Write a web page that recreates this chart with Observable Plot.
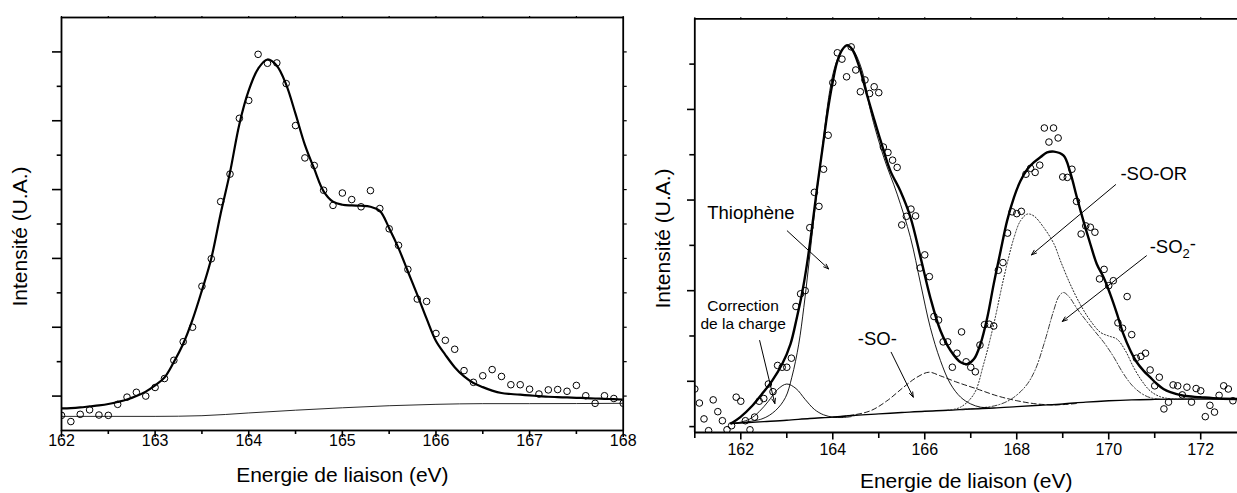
<!DOCTYPE html>
<html><head><meta charset="utf-8">
<script src="https://cdn.jsdelivr.net/npm/d3@7"></script>
<script src="https://cdn.jsdelivr.net/npm/@observablehq/plot@0.6"></script>
<style>
html,body{margin:0;padding:0;background:#fff;overflow:hidden}
#wrap{position:relative;width:1237px;height:493px;overflow:hidden;background:#fff}
#left,#right{position:absolute;top:0}
#left{left:0}
#right{left:640px}
</style></head>
<body><div id="wrap"><div id="left"></div><div id="right"></div></div>
<script>
// ---------- Left panel data ----------
const leftE = [162.0,162.1,162.2,162.3,162.4,162.5,162.6,162.7,162.8,162.9,
  163.0,163.1,163.2,163.3,163.4,163.5,163.6,163.7,163.8,163.9,
  164.0,164.1,164.2,164.3,164.4,164.5,164.6,164.7,164.8,164.9,
  165.0,165.1,165.2,165.3,165.4,165.5,165.6,165.7,165.8,165.9,
  166.0,166.1,166.2,166.3,166.4,166.5,166.6,166.7,166.8,166.9,
  167.0,167.1,167.2,167.3,167.4,167.5,167.6,167.7,167.8,167.9,168.0];
const leftCounts = [0.44,0.26,0.47,0.60,0.45,0.44,0.76,0.97,1.11,1.00,
  1.25,1.51,2.04,2.58,3.00,4.19,4.99,6.65,7.45,9.07,
  9.59,10.93,10.67,10.68,10.08,8.86,7.92,7.70,6.98,6.54,
  6.90,6.71,6.50,6.97,6.45,5.86,5.38,4.68,3.82,3.75,
  2.82,2.62,2.36,1.74,1.40,1.59,1.77,1.57,1.33,1.33,
  1.20,1.06,1.18,1.19,1.14,1.31,1.01,0.79,1.01,0.93,0.79];
const leftFit = [0.64,0.65,0.67,0.70,0.73,0.77,0.83,0.90,1.00,1.13,
  1.31,1.54,1.99,2.52,3.22,4.07,5.00,6.30,7.50,8.90,
  9.88,10.51,10.78,10.60,10.05,9.20,8.30,7.60,6.95,6.65,
  6.56,6.54,6.53,6.50,6.38,5.88,5.30,4.62,3.95,3.25,
  2.60,2.20,1.84,1.57,1.38,1.26,1.16,1.09,1.06,1.04,
  1.02,1.00,0.98,0.97,0.96,0.95,0.94,0.93,0.92,0.91,0.90];
const leftBgE = [162,163,163.5,164,164.5,165,165.5,166,166.5,167,168];
const leftBgI = [0.41,0.41,0.43,0.51,0.59,0.66,0.72,0.76,0.78,0.78,0.79];
const leftTickLabels = [162,163,164,165,166,167,168];
const leftMinorX = [162.5,163.5,164.5,165.5,166.5,167.5];
const leftMajorY = [1,3,5,7,9,11];
const leftMinorY = [2,4,6,8,10];

// ---------- Right panel data ----------
const rightE = [161.0,161.1,161.2,161.3,161.4,161.5,161.6,161.7,161.8,161.9,
  162.0,162.1,162.2,162.3,162.4,162.5,162.6,162.7,162.8,162.9,
  163.0,163.1,163.2,163.3,163.4,163.5,163.6,163.7,163.8,163.9,
  164.0,164.1,164.2,164.3,164.4,164.5,164.6,164.7,164.8,164.9,
  165.0,165.1,165.2,165.3,165.4,165.5,165.6,165.7,165.8,165.9,
  166.0,166.1,166.2,166.3,166.4,166.5,166.6,166.7,166.8,166.9,
  167.0,167.1,167.2,167.3,167.4,167.5,167.6,167.7,167.8,167.9,
  168.0,168.1,168.2,168.3,168.4,168.5,168.6,168.7,168.8,168.9,
  169.0,169.1,169.2,169.3,169.4,169.5,169.6,169.7,169.8,169.9,
  170.0,170.1,170.2,170.3,170.4,170.5,170.6,170.7,170.8,170.9,
  171.0,171.1,171.2,171.3,171.4,171.5,171.6,171.7,171.8,171.9,
  172.0,172.1,172.2,172.3,172.4,172.5,172.6,172.7];
const rightCounts = [0.83,0.52,0.17,-0.09,0.59,0.33,0.13,-0.07,0.02,0.65,
  0.56,0.13,-0.07,0.21,0.56,0.62,0.94,0.77,1.35,1.31,
  1.31,1.51,2.65,2.93,3.00,4.39,5.17,4.86,5.68,6.43,
  7.59,8.25,8.11,7.72,8.38,7.87,7.39,7.65,7.35,7.50,
  7.37,6.17,6.05,5.88,5.72,4.45,4.64,4.80,4.65,3.50,
  3.79,3.31,2.43,2.35,1.87,1.87,1.31,1.62,2.09,1.43,
  1.31,1.21,1.80,2.25,2.26,2.22,3.45,3.62,4.27,4.74,
  4.70,4.75,5.57,5.70,5.61,5.77,6.59,6.28,6.59,6.37,
  5.51,5.50,5.68,4.97,4.25,4.43,4.40,4.29,3.26,3.47,
  3.11,3.22,2.29,2.17,2.87,2.03,1.51,1.55,1.62,1.25,
  0.90,1.09,0.39,0.54,0.92,0.90,0.70,0.87,0.54,0.84,
  0.79,0.22,0.47,0.32,0.69,0.90,0.83,0.57];
const envE = [161.79,161.99,162.25,162.46,162.68,162.9,163.08,163.22,163.33,163.44,163.55,163.66,163.77,163.88,163.99,
  164.09,164.2,164.31,164.42,164.57,164.75,164.88,165.04,165.25,165.47,165.69,165.91,166.12,166.34,166.56,166.78,
  166.92,167.07,167.21,167.36,167.5,167.65,167.79,167.94,168.08,168.23,168.37,168.52,168.66,168.81,169.02,169.16,
  169.31,169.45,169.6,169.74,169.89,170.03,170.18,170.32,170.47,170.61,170.76,170.9,171.05,171.19,171.34,171.63,
  171.99,172.4,172.8];
const envI = [0.07,0.21,0.46,0.72,1.01,1.38,1.82,2.41,2.93,3.59,4.40,5.28,6.09,6.90,7.56,
  8.03,8.31,8.42,8.33,7.96,7.30,6.85,6.31,5.65,5.20,4.62,3.73,2.85,2.12,1.68,1.42,
  1.38,1.49,1.82,2.41,3.15,3.88,4.54,5.06,5.42,5.68,5.83,5.95,6.05,6.07,5.98,5.62,
  5.05,4.54,4.03,3.59,3.29,2.93,2.49,2.04,1.68,1.42,1.23,1.09,0.94,0.83,0.76,0.68,
  0.65,0.62,0.61];
const thioE = [161.8,162.46,162.75,162.97,163.11,163.26,163.37,163.48,163.59,163.7,163.81,163.91,164.02,164.13,164.24,
  164.35,164.46,164.64,164.82,165.11,165.4,165.69,165.91,166.12,166.34,166.56,166.78,167.0,167.21,167.4];
const thioI = [0.07,0.17,0.35,0.64,1.09,1.82,2.63,3.59,4.61,5.57,6.45,7.26,7.85,8.18,8.36,
  8.40,8.29,7.85,6.97,5.94,5.13,4.17,3.15,2.19,1.46,0.94,0.65,0.50,0.43,0.42];
const corrE = [161.8,162.0,162.2,162.4,162.6,162.8,163.0,163.2,163.4,163.6,163.8,164.0,164.2,164.4];
const corrI = [0.07,0.10,0.17,0.33,0.56,0.82,0.94,0.84,0.60,0.38,0.26,0.21,0.20,0.22];
const soE = [164.0,164.4,164.82,165.18,165.54,165.83,166.09,166.34,166.7,167.14,167.57,168.01,168.44,168.88,169.3];
const soI = [0.21,0.25,0.35,0.57,0.87,1.09,1.20,1.12,0.98,0.83,0.68,0.57,0.50,0.48,0.51];
const sorE = [166.5,166.78,167.07,167.28,167.5,167.72,167.94,168.08,168.23,168.37,168.59,168.81,168.95,169.16,
  169.38,169.6,169.82,170.0,170.18,170.36,170.54,170.72,170.9,171.12,171.41,171.8];
const sorI = [0.36,0.43,0.72,1.38,2.26,3.29,4.17,4.54,4.69,4.65,4.39,4.03,3.66,3.15,
  2.70,2.34,2.08,2.00,1.93,1.68,1.31,1.01,0.79,0.66,0.61,0.61];
const so2E = [166.8,167.2,167.6,167.9,168.2,168.4,168.6,168.8,168.92,169.02,169.15,169.3,169.5,169.7,169.9,
  170.1,170.3,170.5,170.7,170.9,171.2,171.5];
const so2I = [0.38,0.41,0.48,0.62,0.90,1.25,1.85,2.55,2.88,2.96,2.85,2.62,2.35,2.10,1.85,
  1.55,1.20,0.92,0.74,0.64,0.60,0.60];
const bgE = [161.8,162.5,163.0,163.5,164.0,164.5,165.0,165.5,166.0,166.5,167.0,167.5,168.0,168.5,169.0,169.5,170.0,170.5,171.0,172.0,172.8];
const bgI = [0.07,0.11,0.14,0.18,0.21,0.25,0.28,0.31,0.34,0.36,0.39,0.41,0.44,0.47,0.50,0.54,0.57,0.59,0.60,0.61,0.61];
const rightTickLabels = [162,164,166,168,170,172];
const rightMinorX = [161,163,165,167,169,171];
const rightMajorY = [1,3,5,7];
const rightMinorY = [0,2,4,6,8];

// annotations (label, anchor point in data units)
const annLabels = ["Thiophène", "Correction\nde la charge", "-SO-", "-SO-OR", "-SO2-"];
const annX = [161.27, 162.05, 164.97, 170.98, 170.89];
const annY = [4.71, 2.48, 1.93, 5.57, 3.97];
const arrowX1 = [163.01, 162.41, 165.27, 170.15, 170.82];
const arrowY1 = [4.32, 1.90, 1.64, 5.34, 3.77];
const arrowX2 = [163.91, 162.74, 165.75, 168.32, 168.99];
const arrowY2 = [3.48, 0.51, 0.65, 3.79, 2.32];

const xTitle = "Energie de liaison (eV)";
const yTitle = "Intensité (U.A.)";
const FONT = "Liberation Sans, Arial, Helvetica, sans-serif";
const blank = () => "";

const leftPlot = Plot.plot({
  width: 640, height: 493,
  marginLeft: 61, marginRight: 17.3, marginTop: 17, marginBottom: 63,
  x: {domain: [162, 168]},
  y: {domain: [0, 12]},
  style: {fontFamily: FONT, color: "#000", background: "transparent", overflow: "visible"},
  marks: [
    Plot.axisX({ticks: leftTickLabels, tickSize: 7, tickFormat: blank, strokeWidth: 1.6, label: null}),
    Plot.axisX({ticks: leftMinorX, tickSize: 4, tickFormat: blank, strokeWidth: 1.6, label: null}),
    Plot.axisX({anchor: "top", ticks: leftTickLabels.concat(leftMinorX), tickSize: 2, tickFormat: blank, strokeWidth: 1.2, label: null}),
    Plot.axisY({ticks: leftMajorY, tickSize: 9, tickFormat: blank, strokeWidth: 1.6, label: null}),
    Plot.axisY({ticks: leftMinorY, tickSize: 4.3, tickFormat: blank, strokeWidth: 1.6, label: null}),
    Plot.axisY({anchor: "right", ticks: leftMajorY.concat(leftMinorY), tickSize: 3, tickFormat: blank, strokeWidth: 1.2, label: null}),
    Plot.line(leftBgE, {x: leftBgE, y: leftBgI, stroke: "#111", strokeWidth: 0.9, curve: "monotone-x", clip: "frame"}),
    Plot.line(leftE, {x: leftE, y: leftFit, stroke: "#000", strokeWidth: 2.2, curve: "catmull-rom", clip: "frame"}),
    Plot.dot(leftE, {x: leftE, y: leftCounts, r: 3.3, stroke: "#000", strokeWidth: 1, fill: "none", clip: "frame"}),
    Plot.frame({stroke: "#000", strokeWidth: 1.8}),
    Plot.text(leftTickLabels, {x: d => d, text: d => String(d), frameAnchor: "bottom", dy: 15, fontSize: 16}),
    Plot.text([xTitle], {frameAnchor: "bottom", dy: 51, fontSize: 21}),
    Plot.text([yTitle], {frameAnchor: "left", dx: -41, dy: 12.5, rotate: -90, textAnchor: "middle", fontSize: 21})
  ]
});
document.getElementById("left").appendChild(leftPlot);

const rightPlot = Plot.plot({
  width: 597, height: 493,
  marginLeft: 54.3, marginRight: 0, marginTop: 18.3, marginBottom: 61,
  x: {domain: [161, 172.8]},
  y: {domain: [-0.13, 9.0]},
  style: {fontFamily: FONT, color: "#000", background: "transparent", overflow: "visible"},
  marks: [
    Plot.axisX({ticks: rightTickLabels, tickSize: 7.5, tickFormat: blank, strokeWidth: 1.6, label: null}),
    Plot.axisX({ticks: rightMinorX, tickSize: 6, tickFormat: blank, strokeWidth: 1.6, label: null}),
    Plot.axisX({anchor: "top", ticks: rightTickLabels.concat(rightMinorX), tickSize: 2, tickFormat: blank, strokeWidth: 1.2, label: null}),
    Plot.axisY({ticks: rightMajorY, tickSize: 7.3, tickFormat: blank, strokeWidth: 1.6, label: null}),
    Plot.axisY({ticks: rightMinorY, tickSize: 5, tickFormat: blank, strokeWidth: 1.6, label: null}),
    Plot.line(bgE, {x: bgE, y: bgI, stroke: "#000", strokeWidth: 1.4, curve: "monotone-x", clip: "frame"}),
    Plot.line(corrE, {x: corrE, y: corrI, stroke: "#000", strokeWidth: 0.9, curve: "catmull-rom", clip: "frame"}),
    Plot.line(soE, {x: soE, y: soI, stroke: "#000", strokeWidth: 0.9, strokeDasharray: "5,3", curve: "catmull-rom", clip: "frame"}),
    Plot.line(sorE, {x: sorE, y: sorI, stroke: "#222", strokeWidth: 1, strokeDasharray: "1.2,2", curve: "catmull-rom", clip: "frame"}),
    Plot.line(so2E, {x: so2E, y: so2I, stroke: "#222", strokeWidth: 0.9, strokeDasharray: "5,2,1.2,2", curve: "catmull-rom", clip: "frame"}),
    Plot.line(thioE, {x: thioE, y: thioI, stroke: "#000", strokeWidth: 0.9, curve: "catmull-rom", clip: "frame"}),
    Plot.line(envE, {x: envE, y: envI, stroke: "#000", strokeWidth: 2.4, curve: "catmull-rom", clip: "frame"}),
    Plot.dot(rightE, {x: rightE, y: rightCounts, r: 3.3, stroke: "#000", strokeWidth: 1, fill: "none", clip: "frame"}),
    Plot.ruleX([161], {stroke: "#000", strokeWidth: 1.8}),
    Plot.ruleY([-0.13, 9.0], {stroke: "#000", strokeWidth: 1.8}),
    Plot.arrow(arrowX1, {x1: arrowX1, y1: arrowY1, x2: arrowX2, y2: arrowY2, bend: 0, headLength: 8, headAngle: 40, strokeWidth: 1, stroke: "#000"}),
    Plot.text([annLabels[0]], {x: [annX[0]], y: [annY[0]], textAnchor: "start", fontSize: 18.5}),
    Plot.text([annLabels[1]], {x: [annX[1]], y: [annY[1]], textAnchor: "middle", fontSize: 15.5, lineHeight: 1.18}),
    Plot.text([annLabels[2]], {x: [annX[2]], y: [annY[2]], textAnchor: "middle", fontSize: 18.5}),
    Plot.text([annLabels[3]], {x: [annX[3]], y: [annY[3]], textAnchor: "middle", fontSize: 18.5}),
    Plot.text([annLabels[4]], {x: [annX[4]], y: [annY[4]], textAnchor: "start", fontSize: 18.5}),
    Plot.text(rightTickLabels, {x: d => d, text: d => String(d), frameAnchor: "bottom", dy: 22, fontSize: 16}),
    Plot.text([xTitle], {frameAnchor: "bottom", dy: 55, fontSize: 21}),
    Plot.text([yTitle], {frameAnchor: "left", dx: -31.8, dy: 12.8, rotate: -90, textAnchor: "middle", fontSize: 21})
  ]
});
document.getElementById("right").appendChild(rightPlot);

// subscript for -SO2-
d3.select(rightPlot).selectAll("text").each(function() {
  if (this.textContent === "-SO2-" && this.children.length === 0) {
    const t = d3.select(this);
    t.text(null);
    t.append("tspan").text("-SO");
    t.append("tspan").attr("font-size", 13).attr("dy", "0.4em").text("2");
    t.append("tspan").attr("dy", "-0.4em").text("-");
  }
});
</script>
</body></html>
